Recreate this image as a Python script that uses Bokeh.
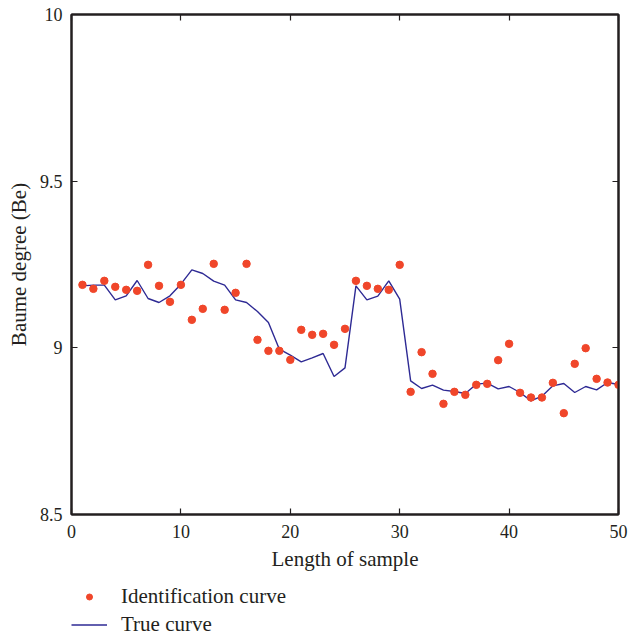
from bokeh.plotting import figure
from bokeh.layouts import column
from bokeh.models import Range1d, LinearAxis, FixedTicker, Legend, LegendItem, CustomJSTickFormatter
from bokeh.embed import file_html
from bokeh.resources import INLINE

samples = list(range(1, 51))
identification = [9.189, 9.177, 9.201, 9.183, 9.174, 9.171, 9.249, 9.186, 9.138, 9.189,
                  9.084, 9.117, 9.252, 9.114, 9.165, 9.252, 9.024, 8.991, 8.991, 8.964,
                  9.054, 9.039, 9.042, 9.009, 9.057, 9.201, 9.186, 9.177, 9.174, 9.249,
                  8.868, 8.987, 8.922, 8.832, 8.868, 8.859, 8.889, 8.892, 8.963, 9.012,
                  8.865, 8.851, 8.851, 8.895, 8.804, 8.952, 8.999, 8.907, 8.896, 8.889]
true_curve = [9.186, 9.188, 9.188, 9.144, 9.156, 9.202, 9.148, 9.136, 9.156, 9.191,
              9.234, 9.223, 9.200, 9.188, 9.144, 9.136, 9.109, 9.076, 8.996, 8.978,
              8.958, 8.970, 8.983, 8.914, 8.940, 9.186, 9.144, 9.155, 9.201, 9.146,
              8.901, 8.878, 8.888, 8.873, 8.869, 8.863, 8.891, 8.894, 8.877, 8.884,
              8.866, 8.841, 8.855, 8.886, 8.893, 8.866, 8.884, 8.874, 8.896, 8.890]
x_ticks = [0, 10, 20, 30, 40, 50]
y_ticks = [8.5, 9, 9.5, 10]
y_tick_labels = ["8.5", "9", "9.5", "10"]
series_names = ["Identification curve", "True curve"]

FONT = "Liberation Serif"
TXT = "#231f20"
DOT = "#f0462a"
LINE = "#2e2a94"

p = figure(width=629, height=580, output_backend="svg", toolbar_location=None,
           x_range=Range1d(0, 50), y_range=Range1d(8.5, 10),
           min_border_left=71, min_border_right=11, min_border_top=14, min_border_bottom=66)
p.grid.visible = False
p.outline_line_color = TXT
p.outline_line_width = 2
p.background_fill_color = "white"

def style_axis(ax):
    ax.axis_line_width = 2
    ax.axis_line_color = TXT
    ax.major_tick_in = 6
    ax.major_tick_out = 0
    ax.major_tick_line_width = 1.2
    ax.major_tick_line_color = TXT
    ax.minor_tick_line_color = None
    ax.major_label_text_font = FONT
    ax.major_label_text_font_size = "18px"
    ax.major_label_text_color = TXT
    ax.axis_label_text_font = FONT
    ax.axis_label_text_font_size = "21px"
    ax.axis_label_text_font_style = "normal"
    ax.axis_label_text_color = TXT

xa = p.xaxis[0]
ya = p.yaxis[0]
xa.ticker = FixedTicker(ticks=x_ticks)
ya.ticker = FixedTicker(ticks=y_ticks)
ya.major_label_overrides = {t: l for t, l in zip(y_ticks, y_tick_labels)}
xa.axis_label = "Length of sample"
ya.axis_label = "Baume degree (Be)"
style_axis(xa)
style_axis(ya)
xa.major_label_standoff = 10
ya.major_label_standoff = 9
xa.axis_label_standoff = 6
ya.axis_label_standoff = 6

# mirrored inward ticks on top and right (no labels)
blank = CustomJSTickFormatter(code="return ' ';")
for loc, ticks in (("right", y_ticks), ("above", x_ticks)):
    ax = LinearAxis(ticker=FixedTicker(ticks=ticks), formatter=blank)
    style_axis(ax)
    ax.major_label_text_font_size = "1px"
    ax.major_label_standoff = 0
    p.add_layout(ax, loc)

p.line(samples, true_curve, line_color=LINE, line_width=1.4)
p.scatter(samples, identification, size=7.5, fill_color=DOT, line_color=DOT)

# legend strip below the chart (its frame is aligned with the chart's frame)
lg = figure(width=629, height=57, output_backend="svg", toolbar_location=None,
            x_range=Range1d(0, 1), y_range=Range1d(0, 1),
            min_border_left=0, min_border_right=0, min_border_top=0, min_border_bottom=0)
lg.axis.visible = False
lg.grid.visible = False
lg.outline_line_color = None
# proxies: the same series, lying outside this strip's ranges so only their legend glyphs show
sc_proxy = lg.scatter(samples, identification, size=7.5, fill_color=DOT, line_color=DOT)
ln_proxy = lg.line(samples, true_curve, line_color=LINE, line_width=1.4)
legend = Legend(items=[LegendItem(label=series_names[0], renderers=[sc_proxy]),
                       LegendItem(label=series_names[1], renderers=[ln_proxy])],
                location=(0, 0), orientation="vertical",
                label_text_font=FONT, label_text_font_size="21px", label_text_color=TXT,
                glyph_width=36, glyph_height=15, label_height=24, label_standoff=14,
                spacing=3, padding=0, margin=0, border_line_color=None,
                background_fill_alpha=0)
lg.add_layout(legend, "center")

open("out.html", "w").write(file_html(column(p, lg, spacing=0), INLINE))
